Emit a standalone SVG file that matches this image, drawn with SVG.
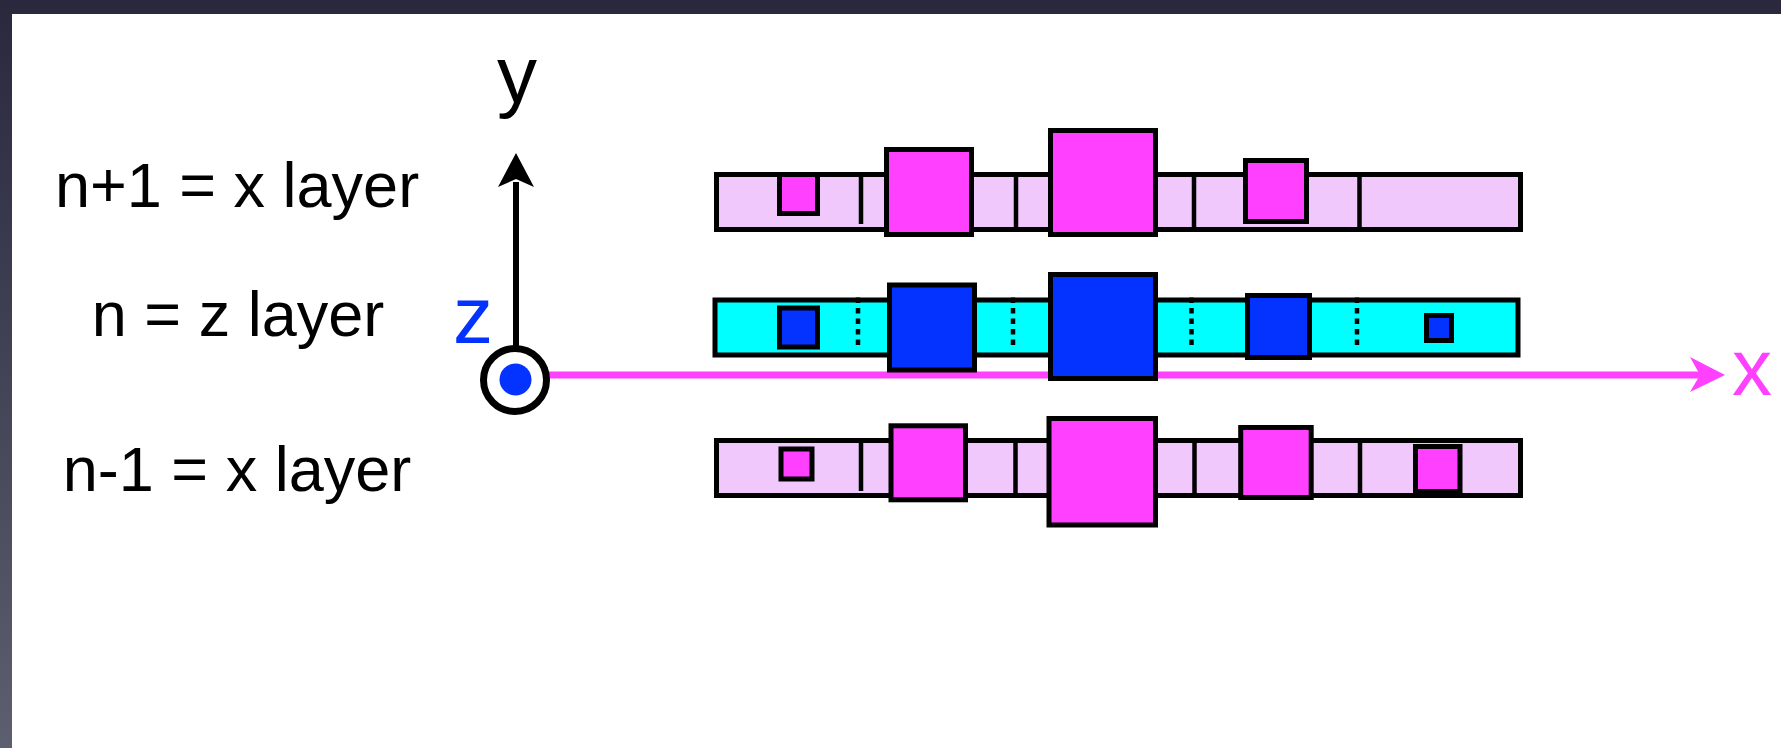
<svg xmlns="http://www.w3.org/2000/svg" width="1781" height="748" viewBox="0 0 1781 748">
<defs>
<linearGradient id="frame" x1="0" y1="0" x2="0" y2="1">
<stop offset="0" stop-color="#29283d"/>
<stop offset="1" stop-color="#5d5e70"/>
</linearGradient>
<style>
.barx{fill:#F0C8FC;stroke:#000;stroke-width:5}
.barz{fill:#00FFFF;stroke:#000;stroke-width:5}
.sqm{fill:#FF40FF;stroke:#000;stroke-width:5}
.sqb{fill:#0433FF;stroke:#000;stroke-width:5}
.div{stroke:#000;stroke-width:4.5;fill:none}
.dot{stroke:#000;stroke-width:4.5;stroke-dasharray:5.5 5;fill:none}
.lbl{font-family:"Liberation Sans",Arial,Helvetica,sans-serif;font-size:63px;fill:#000;text-anchor:middle}
.ax{font-family:"Liberation Sans",Arial,Helvetica,sans-serif;font-size:80px;text-anchor:middle}
</style>
</defs>
<rect x="0" y="0" width="1781" height="748" fill="url(#frame)"/>
<rect x="12" y="14" width="1769" height="734" fill="#fff"/>

<g id="labels">
<text class="lbl" x="237" y="207">n+1 = x layer</text>
<text class="lbl" x="238" y="336">n = z layer</text>
<text class="lbl" x="237" y="491">n-1 = x layer</text>
</g>

<g id="connectors">
<line x1="549" y1="375" x2="1702" y2="375" stroke="#FF40FF" stroke-width="7"/>
<polygon points="1725,375 1690,357 1700,375 1690,392" fill="#FF40FF"/>
<line x1="516" y1="182" x2="516" y2="348" stroke="#000" stroke-width="6"/>
<polygon points="516,153 534,187 516,179 498,187" fill="#000"/>
</g>

<g id="origin">
<circle cx="515" cy="380" r="31.5" fill="#fff" stroke="#000" stroke-width="7"/>
<circle cx="515.5" cy="379.5" r="16" fill="#0433FF"/>
</g>

<g id="axis-labels">
<text class="ax" x="517" y="102" fill="#000">y</text>
<text class="ax" x="473" y="343" fill="#0433FF">z</text>
<text class="ax" x="1752" y="395" fill="#FF40FF">x</text>
</g>

<g id="layer-top">
<rect class="barx" x="716.5" y="174.5" width="804" height="55"/>
<line class="div" x1="861" y1="172" x2="861" y2="224"/>
<line class="div" x1="1016" y1="174.5" x2="1016" y2="229.5"/>
<line class="div" x1="1194" y1="174.5" x2="1194" y2="229.5"/>
<line class="div" x1="1359.5" y1="174.5" x2="1359.5" y2="229.5"/>
<rect class="sqm" x="779.5" y="174.5" width="38" height="39"/>
<rect class="sqm" x="886.5" y="149.5" width="85" height="85"/>
<rect class="sqm" x="1050.5" y="130.5" width="105" height="104"/>
<rect class="sqm" x="1245.5" y="160.5" width="61" height="61"/>
</g>

<g id="layer-middle">
<rect class="barz" x="715" y="300" width="803" height="55"/>
<line class="dot" x1="858" y1="297.5" x2="858" y2="345"/>
<line class="dot" x1="1013" y1="297.5" x2="1013" y2="345"/>
<line class="dot" x1="1191.5" y1="297.5" x2="1191.5" y2="345"/>
<line class="dot" x1="1357" y1="297.5" x2="1357" y2="345"/>
<rect class="sqb" x="779.5" y="308" width="38" height="39"/>
<rect class="sqb" x="889.5" y="285" width="85" height="85"/>
<rect class="sqb" x="1050.5" y="274.5" width="105" height="104"/>
<rect class="sqb" x="1247.5" y="295.5" width="62" height="62"/>
<rect class="sqb" x="1426.5" y="315.5" width="25" height="25"/>
</g>

<g id="layer-bottom">
<rect class="barx" x="716.5" y="440.5" width="804" height="55"/>
<line class="div" x1="861" y1="438" x2="861" y2="491"/>
<line class="div" x1="1015.5" y1="440.5" x2="1015.5" y2="495.5"/>
<line class="div" x1="1194.5" y1="440.5" x2="1194.5" y2="495.5"/>
<line class="div" x1="1360" y1="440.5" x2="1360" y2="495.5"/>
<rect class="sqm" x="781" y="449" width="31" height="30"/>
<rect class="sqm" x="891" y="425.8" width="74.5" height="74"/>
<rect class="sqm" x="1049" y="418.5" width="106.5" height="106.5"/>
<rect class="sqm" x="1240.7" y="427.5" width="70.5" height="70"/>
<rect class="sqm" x="1415.5" y="446.5" width="44.5" height="45"/>
</g>
</svg>
